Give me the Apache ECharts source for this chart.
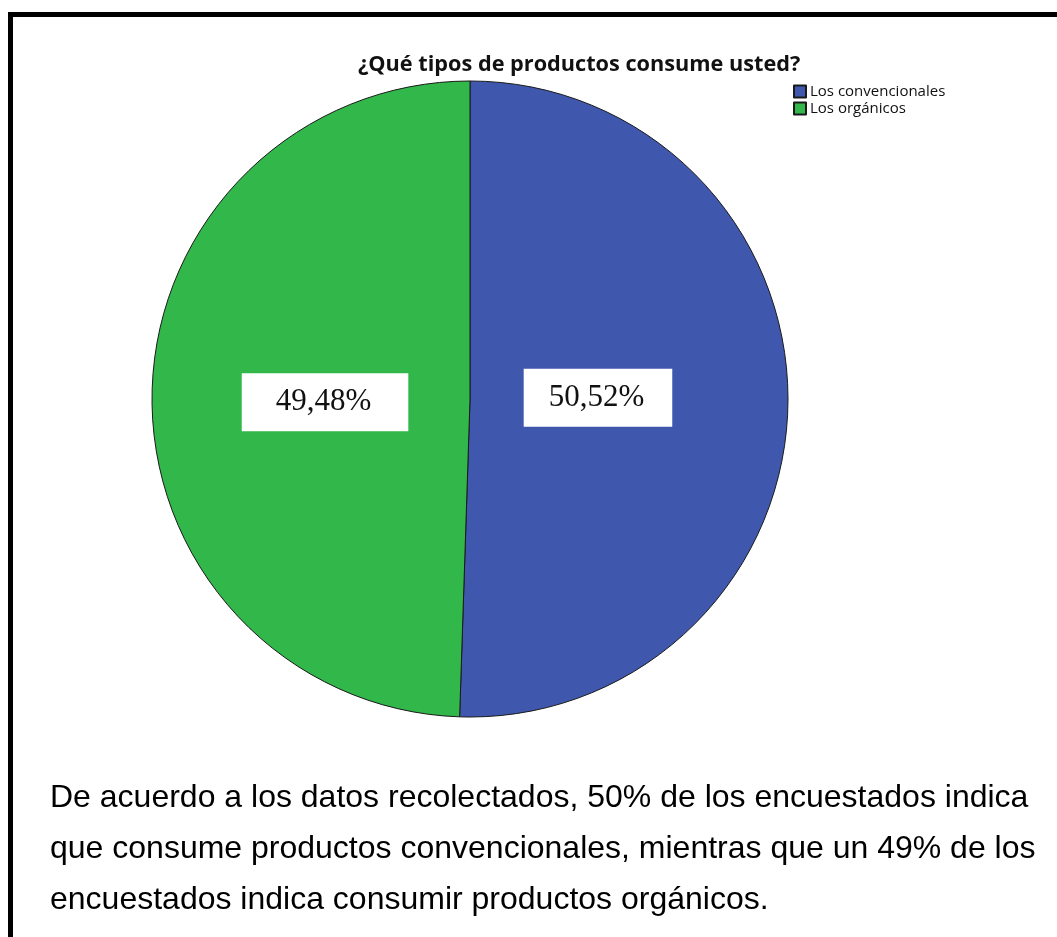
<!DOCTYPE html>
<html>
<head>
<meta charset="utf-8">
<script src="https://cdn.jsdelivr.net/npm/echarts@6/dist/echarts.min.js"></script>
<style>
  html, body { margin: 0; padding: 0; background: #fff; }
  #chart { width: 1057px; height: 937px; }
</style>
</head>
<body>
<div id="chart"></div>
<script>
// Survey answers: share of respondents by type of product consumed (%)
const categories = ['Los convencionales', 'Los orgánicos'];
const shares = [50.52, 49.48];
const sliceColors = ['#3F58AE', '#31B74A'];

const titleText = '¿Qué tipos de productos consume usted?';
const paragraphLines = [
  'De acuerdo a los datos recolectados, 50% de los encuestados indica',
  'que consume productos convencionales, mientras que un 49% de los',
  'encuestados indica consumir productos orgánicos.'
];

// Per-slice label box padding and nudge from the default inside position
const labelPadding = [[12, 28, 12, 25], [12, 37, 12, 34]];
const labelNudge = [[-34, -4], [17, 6]];

const fmt = v => v.toFixed(2).replace('.', ',') + '%';

const chart = echarts.init(document.getElementById('chart'), null, { renderer: 'canvas' });

const pieData = categories.map((name, i) => ({
  name,
  value: shares[i],
  itemStyle: { color: sliceColors[i] },
  label: { padding: labelPadding[i] }
}));

chart.setOption({
  animation: false,
  backgroundColor: '#ffffff',
  title: {
    text: titleText,
    left: 353,
    top: 49,
    textStyle: {
      fontFamily: 'Open Sans',
      fontWeight: 'bold',
      fontSize: 21.7,
      color: '#111'
    }
  },
  legend: {
    orient: 'vertical',
    left: 788,
    top: 79,
    itemWidth: 12,
    itemHeight: 12,
    itemGap: 2,
    icon: 'rect',
    textStyle: { fontFamily: 'Open Sans', fontSize: 15, color: '#111', padding: [0, 0, 0, -1] },
    data: categories
  },
  series: [{
    type: 'pie',
    center: [470, 399],
    radius: 318,
    startAngle: 90,
    clockwise: true,
    silent: true,
    itemStyle: { borderColor: '#1a1a1a', borderWidth: 1 },
    label: {
      show: true,
      position: 'inside',
      formatter: p => fmt(p.value),
      backgroundColor: '#ffffff',
      fontFamily: 'Liberation Serif',
      fontSize: 31,
      lineHeight: 34,
      color: '#111'
    },
    labelLine: { show: false },
    labelLayout: params => ({ dx: labelNudge[params.dataIndex][0], dy: labelNudge[params.dataIndex][1] }),
    data: pieData
  }],
  graphic: [
    {
      type: 'polyline',
      shape: { points: [[10.5, 937], [10.5, 14.5], [1060, 14.5]] },
      style: { stroke: '#000', lineWidth: 5, fill: null }
    }
  ].concat(paragraphLines.map((line, i) => ({
    type: 'text',
    left: 50,
    top: 782 + i * 51,
    style: {
      text: line,
      fontFamily: 'Liberation Sans',
      fontSize: 32,
      fill: '#000'
    }
  })))
});
</script>
</body>
</html>
